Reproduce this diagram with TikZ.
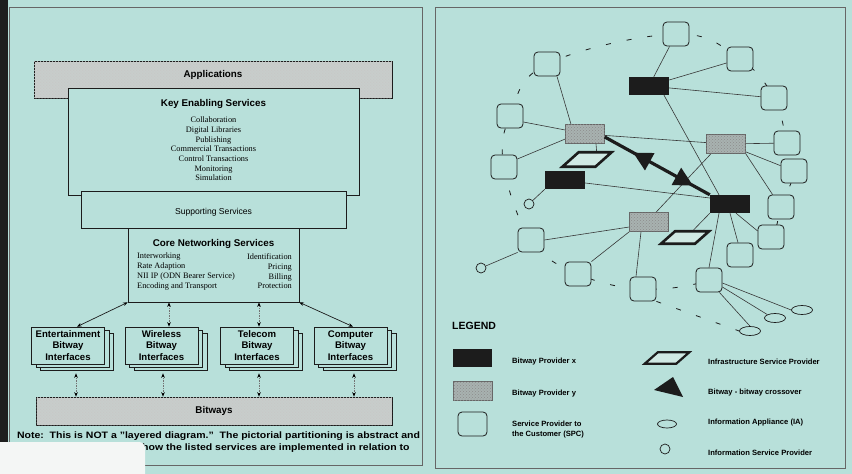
\documentclass[tikz,border=0pt]{standalone}
\usepackage{graphicx}
\usepackage{fontspec}
\setmainfont{Liberation Sans}
\newfontfamily\tms{Liberation Serif}
\usetikzlibrary{arrows.meta,shapes.geometric,shadows,patterns,decorations.markings,calc}

\definecolor{paper}{RGB}{184,224,218}
\definecolor{ink}{RGB}{28,28,28}
\definecolor{wire}{RGB}{55,55,55}
\definecolor{bargray}{RGB}{200,205,203}
\definecolor{ygray}{RGB}{168,178,176}
\definecolor{strip}{RGB}{30,30,30}
\definecolor{sheet}{RGB}{244,246,245}
\definecolor{infrafill}{RGB}{208,233,228}

\pgfdeclarelayer{back}
\pgfdeclarelayer{links}
\pgfsetlayers{back,links,main}

\newcommand{\notewide}[1]{\scalebox{1.13}[1]{#1}}

\begin{document}
\begin{tikzpicture}[x=1pt,y=-1pt,
  panel/.style={draw=black!60, line width=0.6pt},
  graybar/.style={draw=ink, line width=0.7pt, fill=bargray,
    postaction={pattern=crosshatch dots, pattern color=black!22}},
  layerbox/.style={draw=ink, line width=0.7pt, fill=paper},
  ttl/.style={font=\bfseries\fontsize{9.8}{11}\selectfont, inner sep=0pt},
  item/.style={font=\tms\fontsize{8.3}{9.7}\selectfont, inner sep=0pt},
  iface/.style={draw=ink, line width=0.7pt, fill=paper, minimum width=73pt,
    minimum height=37pt, align=center, inner sep=0pt,
    font=\bfseries\fontsize{9.6}{11.5}\selectfont,
    double copy shadow={shadow xshift=4.5pt, shadow yshift=-3pt}},
  tipb/.tip={Stealth[length=4.5pt,width=3.6pt,color=black]},
  solidarr/.style={draw=ink, line width=0.7pt, tipb-tipb},
  dotarr/.style={draw=black!55, densely dotted, line width=0.7pt, tipb-tipb},
  notefont/.style={font=\bfseries\fontsize{9.3}{11}\selectfont, inner sep=0pt},
  spc/.style={draw=ink, line width=0.8pt, fill=paper, rounded corners=4pt,
    minimum width=26pt, minimum height=24pt, inner sep=0pt},
  bpx/.style={fill=ink, minimum width=40pt, minimum height=18pt, inner sep=0pt},
  bpy/.style={draw=black!60, line width=0.5pt, fill=ygray,
    postaction={pattern=crosshatch dots, pattern color=black!45},
    minimum width=39pt, minimum height=19pt, inner sep=0pt},
  ispn/.style={circle, draw=ink, line width=0.7pt, fill=paper, minimum size=10pt, inner sep=0pt},
  ian/.style={ellipse, draw=ink, line width=0.7pt, fill=paper, minimum width=21pt,
    minimum height=9pt, inner sep=0pt},
  infra/.style={draw=ink, line width=2.6pt, fill=infrafill, inner sep=0pt, transform shape},
  link/.style={draw=wire, line width=0.6pt},
  ring/.style={draw=ink, line width=0.8pt, dash pattern=on 5pt off 16pt},
  lgtxt/.style={anchor=west, inner sep=0pt, align=left,
    font=\bfseries\fontsize{7.6}{10}\selectfont},
]
\useasboundingbox (0,0) rectangle (852,474);
\begin{pgfonlayer}{back}
  \fill[paper] (0,0) rectangle (852,474);
\end{pgfonlayer}

% ---------------- left panel: service layers ----------------
\draw[panel] (9,7) rectangle (422,465);

\node[graybar, minimum width=358pt, minimum height=37pt] (apps) at (213,79.5) {};
\node[ttl] (apps-t) at (213,75) {Applications};

\node[layerbox, minimum width=291pt, minimum height=107pt] (kes) at (213.5,141.5) {};
\node[ttl] (kes-t) at (213.5,104) {Key Enabling Services};
\node[item, align=center] (kes-l) at (213.5,149)
  {Collaboration\\Digital Libraries\\Publishing\\Commercial Transactions\\Control Transactions\\Monitoring\\Simulation};

\node[layerbox, minimum width=265pt, minimum height=37pt] (sup) at (213.5,209.5) {};
\node[font=\fontsize{8.6}{10}\selectfont, inner sep=0pt] (sup-t) at (213.5,212) {Supporting Services};

\node[layerbox, minimum width=171pt, minimum height=74pt] (core) at (213.5,265) {};
\node[ttl] (core-t) at (213.5,244) {Core Networking Services};
\node[item, anchor=west, align=left] (core-l) at (137,271.5)
  {Interworking\\Rate Adaption\\NII IP (ODN Bearer Service)\\Encoding and Transport};
\node[item, anchor=east, align=right] (core-r) at (292,271.5)
  {Identification\\Pricing\\Billing\\Protection};

\node[iface] (ent)  at (68,345.5)  {Entertainment\\Bitway\\Interfaces};
\node[iface] (wir)  at (161.5,345.5) {Wireless\\Bitway\\Interfaces};
\node[iface] (tel)  at (257,345.5) {Telecom\\Bitway\\Interfaces};
\node[iface] (comp) at (350.5,345.5) {Computer\\Bitway\\Interfaces};

\node[graybar, ttl, minimum width=356pt, minimum height=28pt] (bitways) at (214,411) {Bitways};

% links between core services and the interfaces
\draw[solidarr] (core.south west) -- ([xshift=9pt]ent.north);
\draw[solidarr] (core.south east) -- ([xshift=2.5pt]comp.north);
\path ([xshift=7.5pt]wir.north) coordinate (wtop);
\path ([xshift=2pt]tel.north) coordinate (ttop);
\draw[dotarr] (wtop) -- (wtop |- core.south);
\draw[dotarr] (ttop) -- (ttop |- core.south);

% links between the interfaces and the bitways
\foreach \n/\dx in {ent/8, wir/1.5, tel/2, comp/3.5}{
  \path ([xshift=\dx pt, yshift=-9pt]\n.south) coordinate (\n-b);
  \draw[dotarr] (\n-b) -- (\n-b |- bitways.north);
}

\node[notefont] (note1) at (218.5,436)
  {\notewide{Note:\ \ This is NOT a "layered diagram."\ \ The pictorial partitioning is abstract and}};
\node[notefont, anchor=west] (note2) at (142,448)
  {\notewide{how the listed services are implemented in relation to}};

% ---------------- right panel: provider network ----------------
\draw[panel] (435,7) rectangle (845,468);

% service providers to the customer
\node[spc] (s1)  at (676,34)  {};
\node[spc] (s2)  at (740,59)  {};
\node[spc] (s3)  at (774,98)  {};
\node[spc] (s4)  at (787,143) {};
\node[spc] (s5)  at (794,171) {};
\node[spc] (s6)  at (781,207) {};
\node[spc] (s7)  at (771,237) {};
\node[spc] (s8)  at (740,255) {};
\node[spc] (s9)  at (709,280) {};
\node[spc] (s10) at (643,289) {};
\node[spc] (s11) at (578,274) {};
\node[spc] (s12) at (531,240) {};
\node[spc] (s13) at (504,167) {};
\node[spc] (s14) at (510,116) {};
\node[spc] (s15) at (547,64)  {};

% bitway providers
\node[bpx] (bx1) at (649,86)  {};
\node[bpx] (bx2) at (565,180) {};
\node[bpx] (bx3) at (730,204) {};
\node[bpy] (by1) at (585,134) {};
\node[bpy] (by2) at (726,144) {};
\node[bpy] (by3) at (649,222) {};

% infrastructure service providers
\begin{scope}[shift={(587,159.5)}, xslant=1.12]
  \node[infra, minimum width=33pt, minimum height=14.5pt] (infra1) at (0,0) {};
\end{scope}
\begin{scope}[shift={(685,237.5)}, xslant=1.13]
  \node[infra, minimum width=34pt, minimum height=12.5pt] (infra2) at (0,0) {};
\end{scope}

% information service providers and appliances
\node[ispn] (isp1) at (529,204) {};
\node[ispn] (isp2) at (481,268) {};
\node[ian] (ia1) at (802,310) {};
\node[ian] (ia2) at (775,318) {};
\node[ian] (ia3) at (750,331) {};

\begin{pgfonlayer}{links}
  \draw[ring] plot[smooth cycle, tension=0.65] coordinates
    {(s15) (s1) (s2) (s3) (s4) (s5) (s6) (s7) (s8) (s9) (s10) (s11) (s12) (s13) (s14)};
  \draw[ring] (s10.south east) -- (ia3.west);

  \draw[link] (s1) -- (bx1);
  \draw[link] (bx1) -- (s2);
  \draw[link] (bx1) -- (s3);
  \draw[link] ([xshift=15pt]bx1.south) -- ([xshift=-11pt]bx3.north);
  \draw[link] ([xshift=10pt]s15.south) -- ([xshift=-14pt]by1.north);
  \draw[link] ([yshift=-6pt]s14.east) -- ([yshift=4pt]by1.west);
  \draw[link] ([yshift=8pt]s13.east) -- ([yshift=-5pt]by1.west);
  \draw[link] (by1) -- (by2);
  \draw[link] ([xshift=11pt]by1.south) -- (infra1.north);
  \draw[link] (by2) -- (s4);
  \draw[link] (by2) -- (s5);
  \draw[link] (by2.south east) -- ([xshift=5pt]s6.north west);
  \draw[link] ([xshift=-15pt]by2.south) -- ([xshift=7pt]by3.north);
  \draw[link] ([yshift=-3pt]bx2.east) -- ([yshift=6pt]bx3.west);
  \draw[link] (bx2.south west) -- (isp1);
  \draw[link] ([yshift=-5pt]by3.west) -- (s12.east);
  \draw[link] (by3.south west) -- (s11.north east);
  \draw[link] ([xshift=-8pt]by3.south) -- ([xshift=-7pt]s10.north);
  \draw[link] (bx3.south west) -- (infra2.north);
  \draw[link] ([xshift=-11pt]bx3.south) -- (s9.north);
  \draw[link] (bx3.south) -- ([xshift=-2pt]s8.north);
  \draw[link] ([xshift=6pt]bx3.south) -- ([yshift=6pt]s7.west);
  \draw[link] (s12.south west) -- (isp2);
  \draw[link] ([yshift=-3pt]s9.east) -- (ia1.west);
  \draw[link] ([yshift=-7pt]s9.east) -- (ia2.north west);
  \draw[link] ([xshift=-3pt]s9.south east) -- (ia3.north);
\end{pgfonlayer}

% bitway-bitway crossover
\draw[ink, line width=3.2pt, postaction={decorate}, decoration={markings,
    mark=at position 0.27 with {\arrowreversed{Triangle[length=19pt,width=19pt]}},
    mark=at position 0.84 with {\arrow{Triangle[length=19pt,width=19pt]}}}]
  ([yshift=-3pt]by1.east) -- (bx3.north west);

% ---------------- legend ----------------
\node[font=\bfseries\fontsize{10.5}{12}\selectfont, anchor=west, inner sep=0pt] (legend) at (452,326) {LEGEND};
\node[bpx, minimum width=39pt] (lg-x) at (472.5,358) {};
\node[lgtxt] (lg-x-t) at (512,362) {Bitway Provider x};
\node[bpy] (lg-y) at (472.5,391) {};
\node[lgtxt] (lg-y-t) at (512,394) {Bitway Provider y};
\node[spc, minimum width=29pt] (lg-s) at (472.5,424) {};
\node[lgtxt] (lg-s-t) at (512,430) {Service Provider to\\the Customer (SPC)};

\begin{scope}[shift={(667,358)}, xslant=1.14]
  \node[infra, line width=2.2pt, minimum width=31.5pt, minimum height=11.5pt] (lg-inf) at (0,0) {};
\end{scope}
\node[lgtxt] (lg-inf-t) at (708,362) {Infrastructure Service Provider};
\fill[ink] (654,390) -- (673,377) -- (683,397) -- cycle;
\node[lgtxt] (lg-tri-t) at (708,393) {Bitway - bitway crossover};
\node[ian, minimum width=19pt, minimum height=8pt] (lg-ia) at (667,424) {};
\node[lgtxt] (lg-ia-t) at (708,423) {Information Appliance (IA)};
\node[ispn] (lg-isp) at (665,449) {};
\node[lgtxt] (lg-isp-t) at (708,453) {Information Service Provider};

% ---------------- page edge ----------------
\fill[strip] (0,0) rectangle (8,442);
\fill[sheet] (0,474) -- (0,442) [rounded corners=6pt] -- (145,442) [sharp corners] -- (145,474) -- cycle;
\end{tikzpicture}
\end{document}
